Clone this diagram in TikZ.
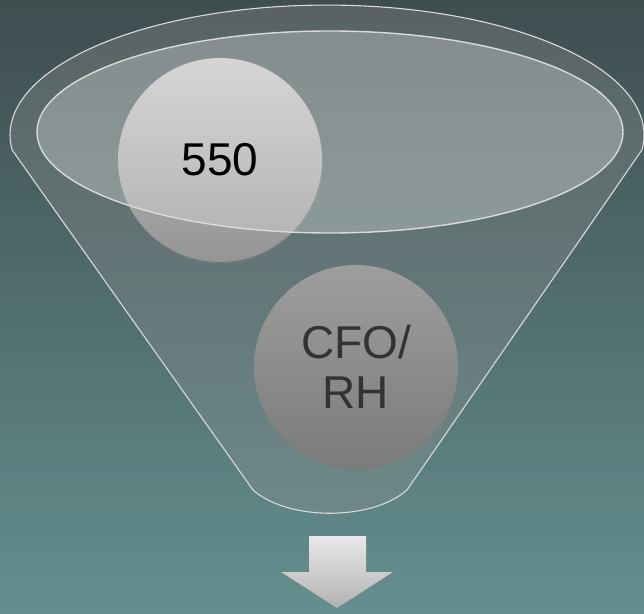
\documentclass[tikz,border=0pt]{standalone}
\usepackage{fontspec}
\setmainfont{Liberation Sans}
\usetikzlibrary{shadows}
\definecolor{bgtop}{HTML}{3F4D4F}
\definecolor{bgbot}{HTML}{648F8F}
\definecolor{edge}{HTML}{DADADA}
\tikzset{%
  funnel/.style={draw=edge,line width=1.1pt,fill=gray!85,fill opacity=.3},
  rim/.style={draw=edge,line width=1.4pt,fill=white,fill opacity=.27},
  big/.style={font=\fontsize{46}{50}\selectfont,align=center},
  ball/.style={circle,minimum size=204pt,inner sep=0pt,big,
    drop shadow={opacity=.3,shadow xshift=1pt,shadow yshift=-2pt}},
  hi/.style={top color=black!22,bottom color=black!42},
  lo/.style={top color=black!38,bottom color=black!52,text=black!80},
  down/.style={top color=black!9,bottom color=black!30,
    drop shadow={opacity=.3,shadow xshift=1pt,shadow yshift=-2pt}}
}
\begin{document}
\begin{tikzpicture}[x=1pt,y=1pt]
  \shade[top color=bgtop,bottom color=bgbot] (0,0) rectangle (644,613);
  \useasboundingbox (0,0) rectangle (644,613);

  % funnel body
  \draw[funnel] (641.9,463) arc[start angle=-6.6,end angle=186.6,x radius=317,y radius=130]
    -- (253,123) .. controls (288,92) and (372,92) .. (407,123) -- cycle;

  \node[ball,hi] (top) at (220,453) {};
  \node[ball,lo] (bot) at (356,246) {CFO/\\RH};

  % opening of the funnel
  \draw[rim] (330,481) ellipse[x radius=293,y radius=101];
  \node[big] (toptext) at (top) {550};

  % arrow out
  \shade[down] (309,77) -- (366,77) -- (366,41) -- (393,41) -- (337,5)
    -- (281,41) -- (309,41) -- cycle;
\end{tikzpicture}
\end{document}
